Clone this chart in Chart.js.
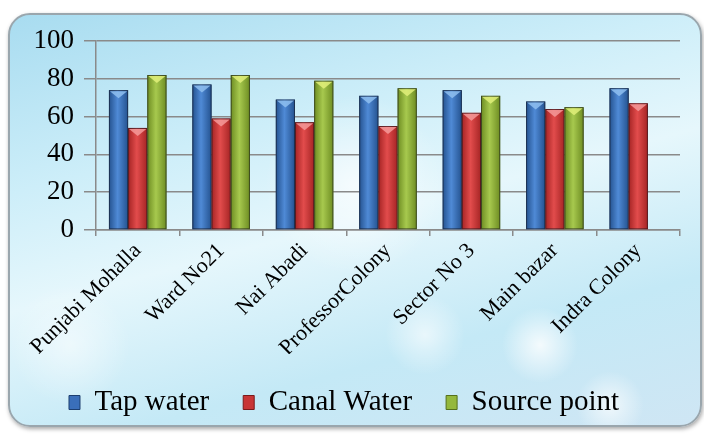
<!DOCTYPE html>
<html>
<head>
<meta charset="utf-8">
<script src="https://cdn.jsdelivr.net/npm/chart.js@4/dist/chart.umd.min.js"></script>
<style>
  html, body { margin: 0; padding: 0; background: #fff; }
  #wrap { position: relative; width: 704px; height: 435px; overflow: hidden; }
  #frame {
    position: absolute; left: 8px; top: 13px; width: 690px; height: 410px;
    border-radius: 22px; border: 2px solid #9aa6ad;
    box-shadow: 1px 2px 4px rgba(0,0,0,0.35);
    background:
      radial-gradient(circle at 530px 330px, rgba(255,255,255,0.8) 0, rgba(255,255,255,0) 38px),
      radial-gradient(circle at 415px 320px, rgba(255,255,255,0.6) 0, rgba(255,255,255,0) 40px),
      radial-gradient(circle at 600px 390px, rgba(255,255,255,0.7) 0, rgba(255,255,255,0) 34px),
      radial-gradient(circle at 345px 170px, rgba(255,255,255,0.7) 0, rgba(255,255,255,0) 90px),
      radial-gradient(circle at 60px 330px, rgba(255,255,255,0.5) 0, rgba(255,255,255,0) 60px),
      linear-gradient(165deg, #a8dcf0 0%, #cdeef9 30%, #e6f7fc 50%, #c4e9f6 75%, #cfe6f4 100%);
  }
  canvas { position: absolute; left: 0; top: 0; }
</style>
</head>
<body>
<div id="wrap">
  <div id="frame"></div>
  <canvas id="myChart" width="704" height="435"></canvas>
</div>
<script>
var categories = ["Punjabi Mohalla", "Ward No21", "Nai Abadi", "ProfessorColony", "Sector No 3", "Main bazar", "Indra Colony"];
var tapWater = [74, 77, 69, 71, 74, 68, 75];
var canalWater = [54, 59, 57, 55, 62, 64, 67];
var sourcePoint = [82, 82, 79, 75, 71, 65, null];
var yTicks = [0, 20, 40, 60, 80, 100];

var serif = "'Liberation Serif', 'Times New Roman', Times, serif";

// edge, centre, top-bevel colours for each series
var shades = [
  ["#24528f", "#4f8ad6", "#8fc0f0"],
  ["#a52424", "#e24c4c", "#f49a9a"],
  ["#6d8c22", "#a7c94e", "#e2f07a"]
];

var barShade = {
  id: "barShade",
  afterDatasetsDraw: function(chart) {
    var c = chart.ctx;
    chart.data.datasets.forEach(function(ds, di) {
      var meta = chart.getDatasetMeta(di);
      var s = shades[di];
      meta.data.forEach(function(bar, i) {
        if (ds.data[i] == null) return;
        var p = bar.getProps(["x", "y", "base", "width"], true);
        var left = p.x - p.width / 2;
        var g = c.createLinearGradient(left, 0, left + p.width, 0);
        g.addColorStop(0, s[0]);
        g.addColorStop(0.45, s[1]);
        g.addColorStop(1, s[0]);
        c.save();
        c.fillStyle = g;
        c.fillRect(left, p.y, p.width, p.base - p.y);
        c.strokeStyle = "rgba(20,20,30,0.55)";
        c.lineWidth = 1;
        c.strokeRect(left + 0.5, p.y + 0.5, p.width - 1, p.base - p.y - 1);
        c.beginPath();
        c.moveTo(left + 1, p.y + 1);
        c.lineTo(left + p.width - 1, p.y + 1);
        c.lineTo(p.x, p.y + 8);
        c.closePath();
        c.fillStyle = s[2];
        c.globalAlpha = 0.85;
        c.fill();
        c.restore();
      });
    });
  }
};

var ctx = document.getElementById("myChart");

var chartData = {
  labels: categories,
  datasets: [
    { label: "Tap water", data: tapWater, backgroundColor: "#3a6fba", borderColor: "#1d3f70", borderWidth: 1 },
    { label: "Canal Water", data: canalWater, backgroundColor: "#c83636", borderColor: "#7a1a1a", borderWidth: 1 },
    { label: "Source point", data: sourcePoint, backgroundColor: "#94b83c", borderColor: "#55701c", borderWidth: 1 }
  ]
};

var options = {
  responsive: false,
  animation: false,
  layout: { padding: { left: 8, right: 24, top: 41, bottom: 8 } },
  datasets: { bar: { categoryPercentage: 0.69, barPercentage: 1 } },
  plugins: {
    tooltip: { enabled: false },
    legend: {
      position: "bottom",
      labels: {
        boxWidth: 11,
        boxHeight: 14,
        padding: 34,
        color: "#000",
        font: { family: serif, size: 29 }
      }
    }
  },
  scales: {
    x: {
      grid: { offset: true, drawOnChartArea: false, drawTicks: true, tickLength: 6, color: "#8a8a8a", lineWidth: 1.5 },
      border: { display: true, color: "#8a8a8a", width: 1.5 },
      ticks: {
        color: "#000",
        minRotation: 45,
        maxRotation: 45,
        padding: 2,
        font: { family: serif, size: 22 }
      },
      afterFit: function(scale) { scale.height = 124; }
    },
    y: {
      min: 0,
      max: 100,
      afterBuildTicks: function(scale) {
        scale.ticks = yTicks.map(function(v) { return { value: v }; });
      },
      grid: { color: "#8a8a8a", lineWidth: 1.5, tickLength: 12 },
      border: { display: true, color: "#8a8a8a", width: 1.5 },
      ticks: {
        color: "#000",
        padding: 10,
        font: { family: serif, size: 27 }
      },
      afterFit: function(scale) { scale.width = 88; }
    }
  }
};

var chart = new Chart(ctx, {
  type: "bar",
  data: chartData,
  options: options,
  plugins: [barShade]
});
</script>
</body>
</html>
